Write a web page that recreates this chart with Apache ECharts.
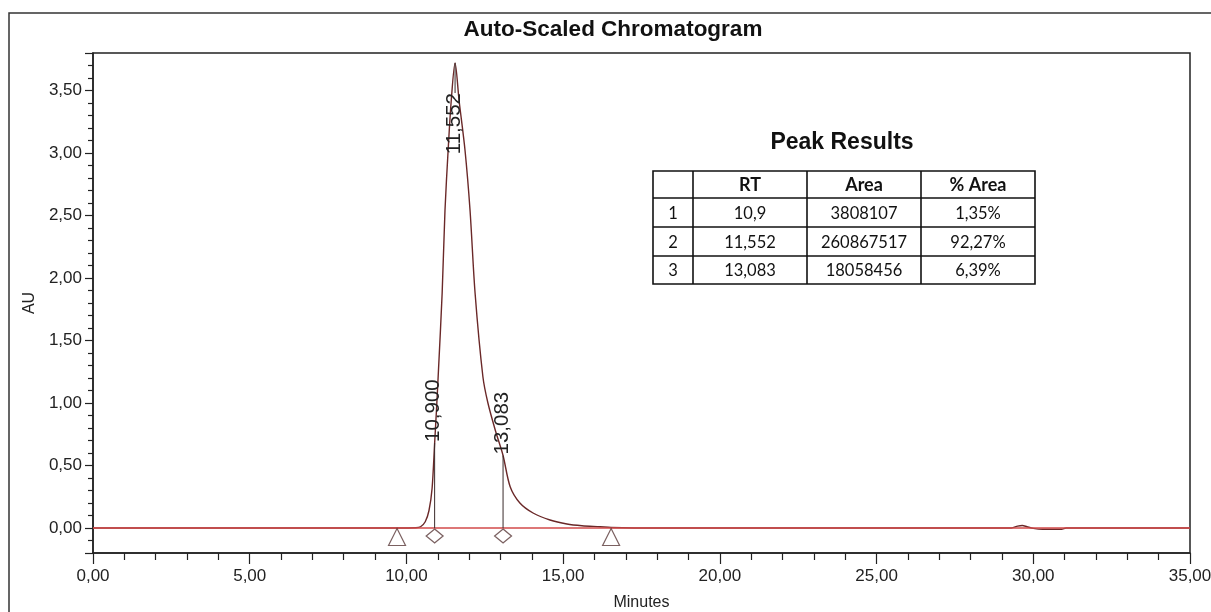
<!DOCTYPE html>
<html>
<head>
<meta charset="utf-8">
<script src="https://cdn.jsdelivr.net/npm/echarts@6/dist/echarts.min.js"></script>
<style>
  html, body { margin: 0; padding: 0; background: #ffffff; }
  #chart { width: 1211px; height: 612px; }
</style>
</head>
<body>
<div id="chart"></div>
<script>
// Detector trace: retention time (minutes) and absorbance (AU)
const traceTime = [0, 2, 4, 6, 8, 9.7, 10.3, 10.45, 10.6, 10.72, 10.82, 10.9, 10.96, 11.02, 11.14, 11.23, 11.33, 11.43, 11.552,
  11.68, 11.87, 12.03, 12.19, 12.44, 12.6, 12.85, 13.083, 13.31, 13.62, 14.04, 14.58, 15.12, 15.6, 16.18, 16.53,
  18, 22, 26, 29.3, 29.5, 29.65, 29.8, 30.0, 30.3, 30.6, 30.9, 31.05, 33, 35];
const traceAU = [0, 0, 0, 0, 0, 0, 0.002, 0.01, 0.05, 0.14, 0.32, 0.68, 0.95, 1.25, 1.88, 2.54, 3.02, 3.42, 3.72,
  3.42, 3.02, 2.54, 1.88, 1.21, 1.0, 0.77, 0.58, 0.33, 0.2, 0.12, 0.064, 0.032, 0.018, 0.01, 0.004,
  0, 0, 0, 0, 0.015, 0.02, 0.01, -0.003, -0.01, -0.01, -0.01, 0, 0, 0];

// Integrated peaks
const peakRT = [10.9, 11.552, 13.083];
const peakArea = [3808107, 260867517, 18058456];
const peakPctArea = [1.35, 92.27, 6.39];

// Integration event markers: drop lines (diamonds), peak start / end (triangles)
const dropMarkTimes = [10.9, 13.083];
const boundMarkTimes = [9.7, 16.53];

// Axis ranges
const xRange = [0, 35];
const yRange = [-0.2, 3.8];

const FONT = '"Liberation Sans", Arial, sans-serif';
const TABLE_FONT = 'Lato, "Open Sans", sans-serif';
const INK = '#222222';
const TRACE = '#6a2828';
const BASE_RED = '#d24a4a';

const comma = (v, d) => v.toFixed(d).replace('.', ',');

// linear read-out of the trace height at time t
function traceAt(t) {
  for (let i = 1; i < traceTime.length; i++) {
    if (t <= traceTime[i]) {
      const t0 = traceTime[i - 1], t1 = traceTime[i];
      const f = (t - t0) / (t1 - t0);
      return traceAU[i - 1] + f * (traceAU[i] - traceAU[i - 1]);
    }
  }
  return traceAU[traceAU.length - 1];
}

const traceData = traceTime.map((t, i) => [t, traceAU[i]]);
const peakMarkData = peakRT.map(t => [t, traceAt(t)]);

// peak apex labels with their drop lines
function renderPeakMark(params, api) {
  const t = api.value(0);
  const h = api.value(1);
  const base = api.coord([t, 0]);
  const top = api.coord([t, h]);
  const text = comma(t, 3);
  const gridTop = params.coordSys.y;
  const labelLen = 66;
  const children = [];
  if (top[1] - labelLen < gridTop) {
    // no room above the apex: hang the label below it
    const lead = 30;
    children.push({
      type: 'line',
      shape: { x1: top[0], y1: top[1], x2: top[0], y2: top[1] + lead },
      style: { stroke: '#3a2a2a', lineWidth: 1 }
    });
    children.push({
      type: 'text', x: top[0] - 1, y: top[1] + lead, rotation: Math.PI / 2,
      style: { text: text, fill: INK, fontSize: 20.5, fontFamily: FONT, align: 'right', verticalAlign: 'middle' }
    });
  } else {
    children.push({
      type: 'line',
      shape: { x1: base[0], y1: base[1], x2: top[0], y2: top[1] },
      style: { stroke: '#3a2a2a', lineWidth: 1 }
    });
    children.push({
      type: 'text', x: top[0] - 1, y: top[1] - 1, rotation: Math.PI / 2,
      style: { text: text, fill: INK, fontSize: 20.5, fontFamily: FONT, align: 'left', verticalAlign: 'middle' }
    });
  }
  return { type: 'group', children: children };
}

// Peak Results table (drawn as graphic elements)
function buildTable() {
  const colX = [653, 693, 807, 921, 1035];
  const rowY = [171, 198, 227, 256, 284];
  const els = [];
  const stroke = { stroke: '#111', lineWidth: 1.6 };
  els.push({ type: 'rect', shape: { x: colX[0], y: rowY[0], width: colX[4] - colX[0], height: rowY[4] - rowY[0] },
    style: Object.assign({ fill: '#fff' }, stroke) });
  colX.slice(1, 4).forEach(x => els.push({ type: 'line', shape: { x1: x, y1: rowY[0], x2: x, y2: rowY[4] }, style: stroke }));
  rowY.slice(1, 4).forEach(y => els.push({ type: 'line', shape: { x1: colX[0], y1: y, x2: colX[4], y2: y }, style: stroke }));
  const cell = (txt, c, r, bold) => els.push({
    type: 'text', x: (colX[c] + colX[c + 1]) / 2, y: (rowY[r] + rowY[r + 1]) / 2 + 1,
    style: { text: txt, fill: '#111', fontSize: bold ? 18 : 16.5, fontWeight: bold ? 'bold' : 'normal',
      fontFamily: TABLE_FONT, align: 'center', verticalAlign: 'middle' }
  });
  cell('RT', 1, 0, true);
  cell('Area', 2, 0, true);
  cell('% Area', 3, 0, true);
  peakRT.forEach((rt, i) => {
    cell(String(i + 1), 0, i + 1, false);
    cell(String(rt).replace('.', ','), 1, i + 1, false);
    cell(String(peakArea[i]), 2, i + 1, false);
    cell(comma(peakPctArea[i], 2) + '%', 3, i + 1, false);
  });
  return els;
}

const chart = echarts.init(document.getElementById('chart'), null, { renderer: 'canvas' });

const option = {
  animation: false,
  backgroundColor: '#ffffff',
  grid: {
    left: 93, top: 53, width: 1097, height: 500,
    containLabel: false, outerBoundsMode: 'none',
    show: true, borderColor: INK, borderWidth: 1.5, backgroundColor: '#ffffff'
  },
  graphic: [
    { type: 'rect', shape: { x: 9, y: 13, width: 1212, height: 612 }, style: { fill: 'none', stroke: '#333', lineWidth: 1.5 }, z: -1 },
    { type: 'text', x: 613, y: 30, style: { text: 'Auto-Scaled Chromatogram', fill: '#111', fontSize: 22.5, fontWeight: 'bold',
      fontFamily: FONT, align: 'center', verticalAlign: 'middle' } },
    { type: 'text', x: 842, y: 143, style: { text: 'Peak Results', fill: '#111', fontSize: 23, fontWeight: 'bold',
      fontFamily: FONT, align: 'center', verticalAlign: 'middle' } }
  ].concat(buildTable()),
  xAxis: {
    type: 'value', min: xRange[0], max: xRange[1], interval: 5,
    name: 'Minutes', nameLocation: 'middle', nameGap: 42,
    nameTextStyle: { fontSize: 16, color: INK, fontFamily: FONT },
    axisLine: { show: true, onZero: false, lineStyle: { color: INK, width: 1.5 } },
    axisTick: { show: true, length: 11, lineStyle: { color: INK, width: 1.2 } },
    minorTick: { show: true, splitNumber: 5, length: 7, lineStyle: { color: INK, width: 1.2 } },
    splitLine: { show: false },
    axisLabel: { fontSize: 17, color: INK, fontFamily: FONT, margin: 15, formatter: v => comma(v, 2) }
  },
  yAxis: {
    type: 'value', min: yRange[0], max: yRange[1], splitNumber: 8,
    name: 'AU', nameLocation: 'middle', nameGap: 55, nameRotate: 90,
    nameTextStyle: { fontSize: 16, color: INK, fontFamily: FONT },
    axisLine: { show: true, onZero: false, lineStyle: { color: INK, width: 1.5 } },
    axisTick: { show: true, length: 8, lineStyle: { color: INK, width: 1.2 } },
    minorTick: { show: true, splitNumber: 5, length: 5, lineStyle: { color: INK, width: 1.2 } },
    splitLine: { show: false },
    axisLabel: {
      fontSize: 17, color: INK, fontFamily: FONT, margin: 11,
      formatter: v => (Math.abs(v * 2 - Math.round(v * 2)) < 1e-6 ? comma(v, 2) : '')
    }
  },
  series: [
    {
      name: 'trace', type: 'line', silent: true, symbol: 'none', z: 3,
      smooth: 0.3, data: traceData,
      lineStyle: { color: TRACE, width: 1.4 }
    },
    {
      // zero baseline, drawn over the flat part of the trace
      name: 'baseline', type: 'line', silent: true, symbol: 'none', z: 4,
      data: [[xRange[0], 0], [xRange[1], 0]],
      lineStyle: { color: BASE_RED, width: 1.5 }
    },
    {
      name: 'peaks', type: 'custom', silent: true, z: 5, clip: false,
      renderItem: renderPeakMark, data: peakMarkData
    },
    {
      name: 'drop', type: 'scatter', silent: true, z: 6,
      symbol: 'diamond', symbolSize: [17, 14], symbolOffset: [0, 8],
      data: dropMarkTimes.map(t => [t, 0]),
      itemStyle: { color: 'rgba(255,255,255,0)', borderColor: '#5a3a3a', borderWidth: 1.2 }
    },
    {
      name: 'bounds', type: 'scatter', silent: true, z: 6,
      symbol: 'triangle', symbolSize: [17, 17], symbolOffset: [0, 9],
      data: boundMarkTimes.map(t => [t, 0]),
      itemStyle: { color: 'rgba(255,255,255,0)', borderColor: '#5a3a3a', borderWidth: 1.2 }
    }
  ]
};

chart.setOption(option);
</script>
</body>
</html>
